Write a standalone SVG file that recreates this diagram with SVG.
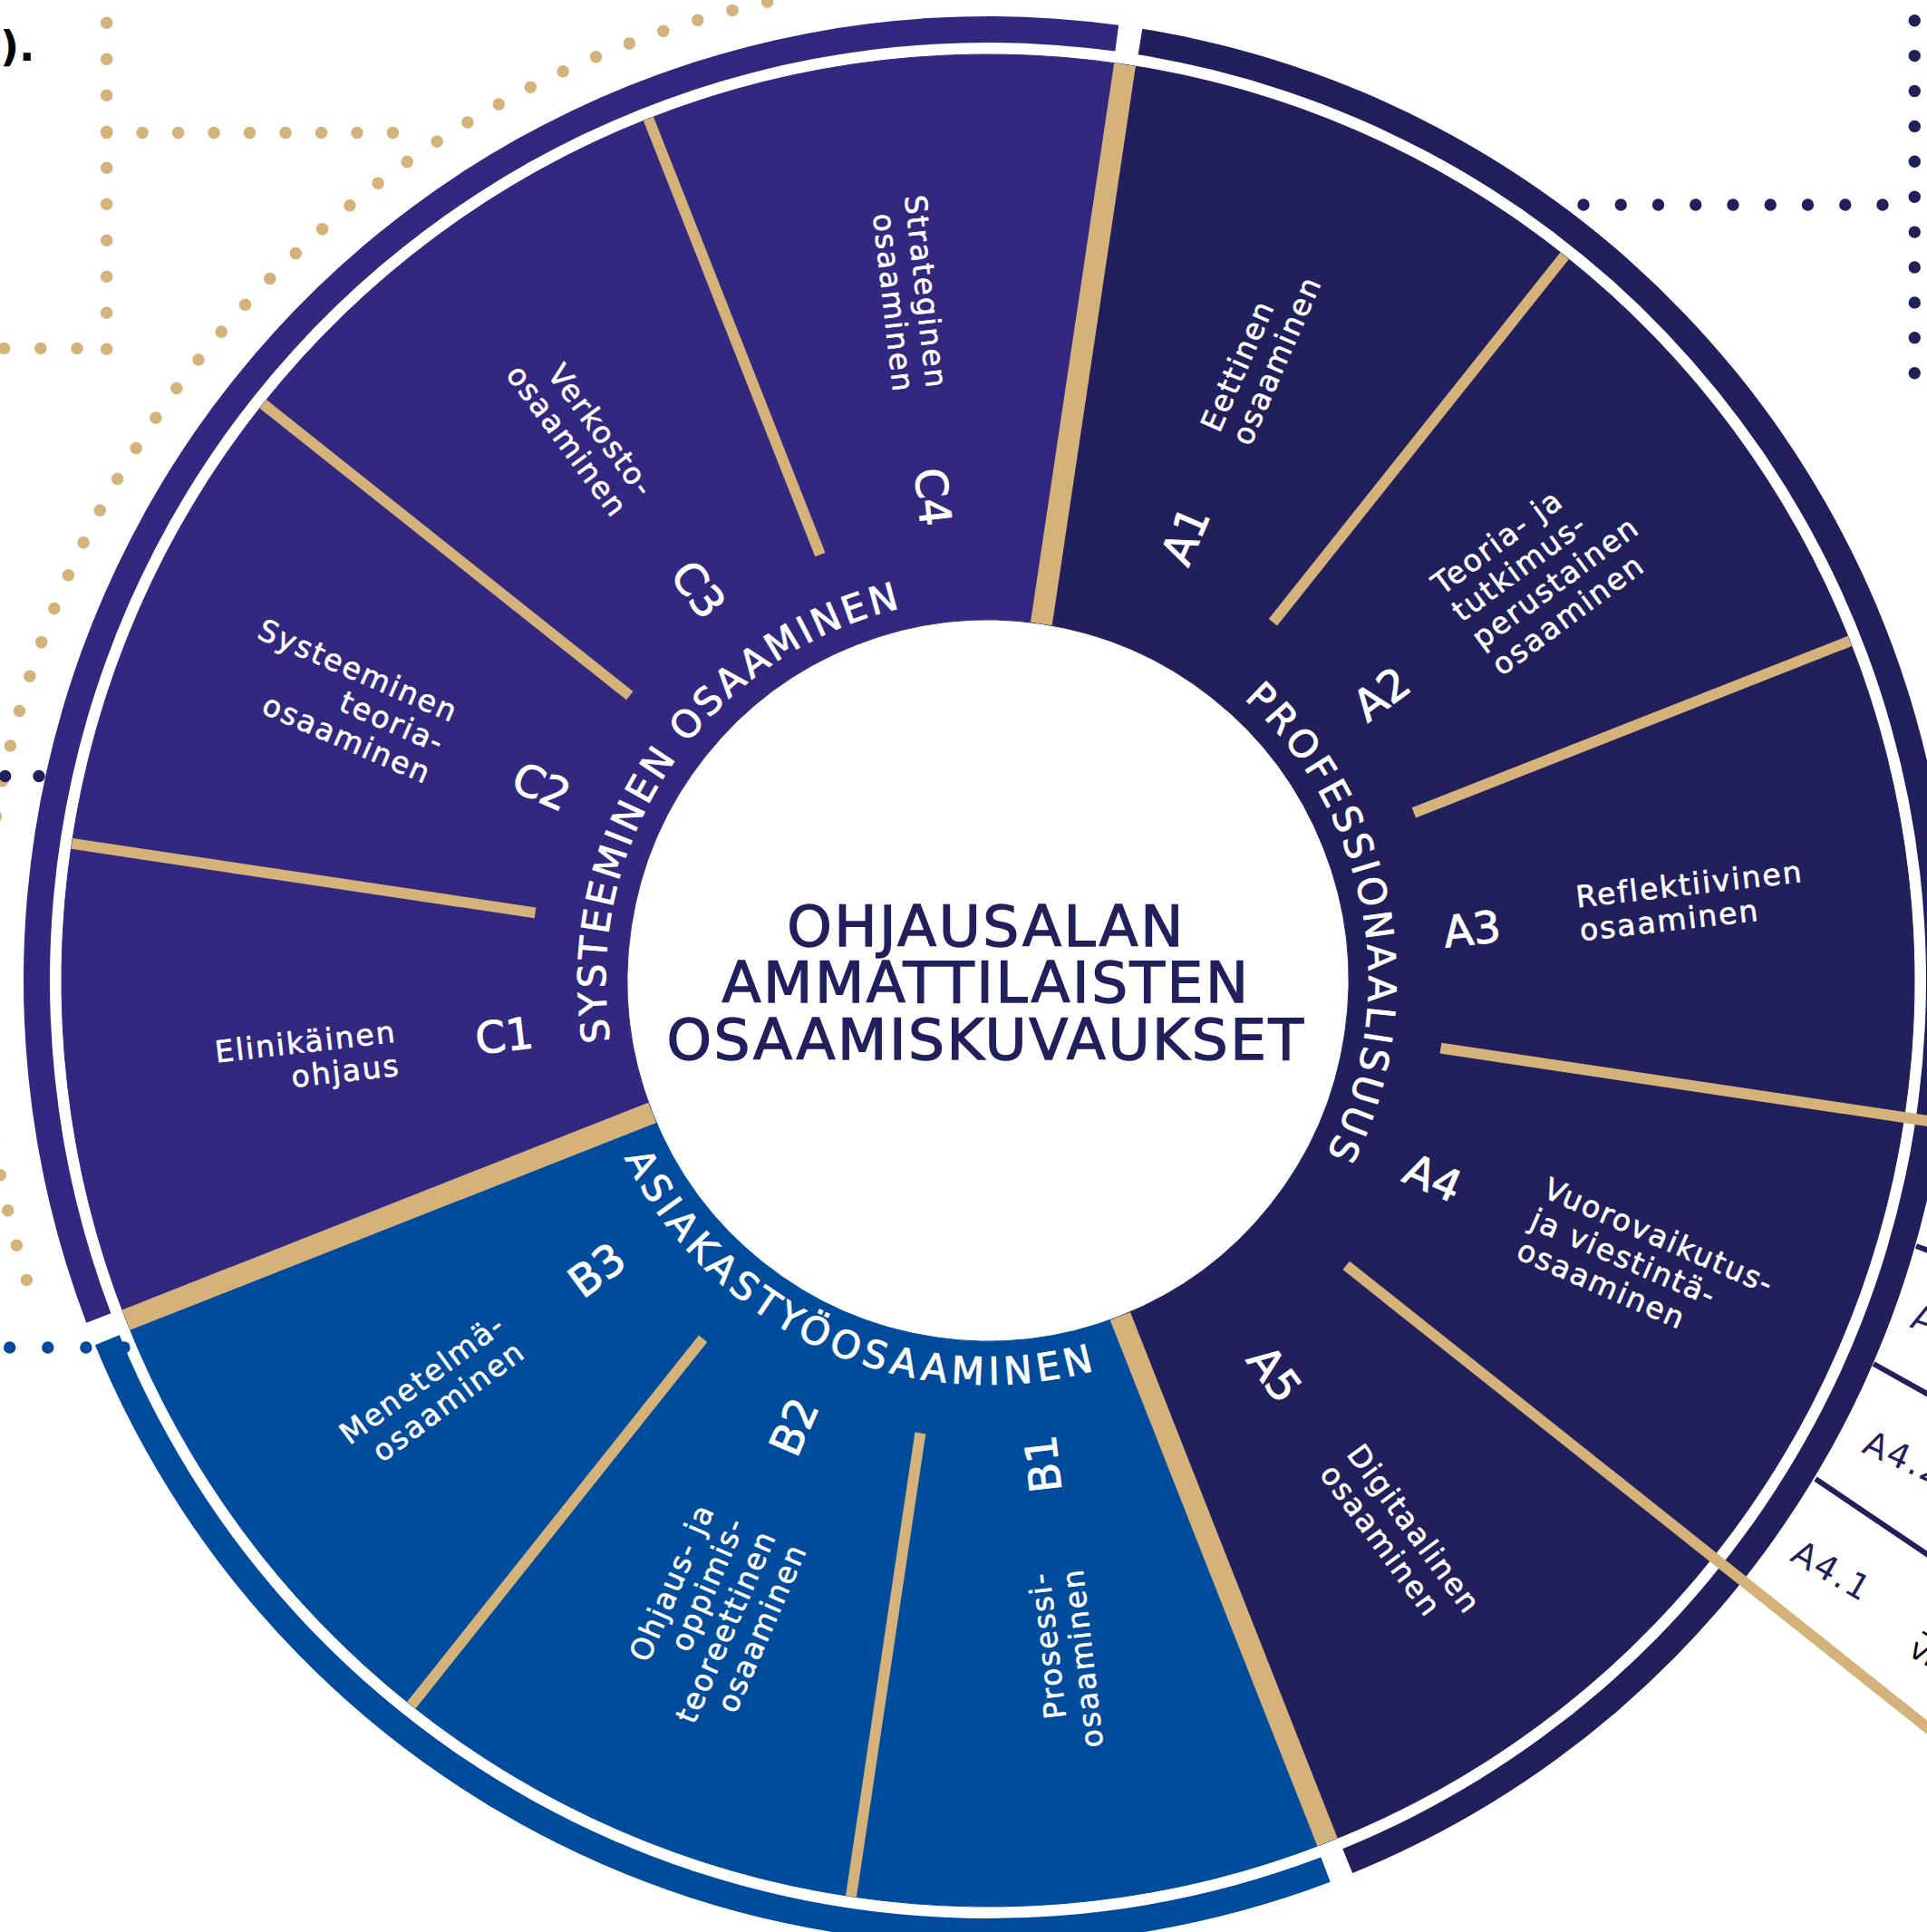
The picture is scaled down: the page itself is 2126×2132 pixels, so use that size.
<svg xmlns="http://www.w3.org/2000/svg" width="2126" height="2132" viewBox="0 0 2126 2132">
<defs>
<style>
.c{fill:#33287F;stroke:#33287F;stroke-width:1}
.a{fill:#211F5C;stroke:#211F5C;stroke-width:1}
.b{fill:#004C9C;stroke:#004C9C;stroke-width:1}
.bc{fill:#33287F}.ba{fill:#211F5C}.bb{fill:#004C9C}
.gk{stroke:#D4B27A;stroke-width:24;fill:none}
.gn{stroke:#D4B27A;stroke-width:12;fill:none}
text{font-family:'DejaVu Sans','Liberation Sans',sans-serif}
.code{font-size:48px;text-anchor:middle;fill:#fff;stroke:#fff;stroke-width:1}
.desc{font-size:33px;letter-spacing:2px;fill:#fff;stroke:#fff;stroke-width:0.6}
.end{text-anchor:end}
.ring{font-size:42px;fill:#fff;text-anchor:middle;stroke:#fff;stroke-width:0.9}
.title{font-size:63px;fill:#211F5C;text-anchor:middle;letter-spacing:2.5px;stroke:#211F5C;stroke-width:1.4}
.dg{fill:none;stroke:#D4B27A;stroke-width:13.5;stroke-linecap:round}
.dn{fill:none;stroke:#211F5C;stroke-width:13.4;stroke-linecap:round}
.db{fill:none;stroke:#004C9C;stroke-width:13.4;stroke-linecap:round}
.nl{stroke:#211F5C;stroke-width:6}
.sub{font-size:38px;fill:#211F5C;letter-spacing:2px}
</style>
<path id="pc" d="M710.71 1266.99 A422 422 0 0 1 1119.44 661.03"/>
<path id="pa" d="M1230.20 686.09 A420 420 0 0 1 1362.77 1401.37"/>
<path id="pb" d="M646.44 1128.62 A446 446 0 0 0 1352.15 1442.82"/>
</defs>
<rect width="2126" height="2132" fill="#fff"/>

<g id="decor">
<path class="dg" d="M846.6 2 A1110 1110 0 0 0 41.7 1450" stroke-dasharray="0 39.79"/>
<path class="dg" d="M117.7 25.3 V385.6" stroke-dasharray="0 40"/>
<path class="dg" d="M117.7 146.4 H433.8" stroke-dasharray="0 39.46"/>
<path class="dg" d="M4.6 384.6 H85.3" stroke-dasharray="0 40.2"/>
<path class="dn" d="M2112.3 22.7 V412" stroke-dasharray="0 38.9"/>
<path class="dn" d="M1747 226 H2077.3" stroke-dasharray="0 41.25"/>
<path class="dn" d="M5.7 856.5 H43.2" stroke-dasharray="0 37.3"/>
<text x="0" y="67" font-size="46" font-weight="bold" fill="#000">).</text>
</g>

<g id="C">
<path class="bc" d="M95.28 1459.66 A1064 1064 0 0 1 1234.21 27.82 L1230.28 56.55 A1035 1035 0 0 0 122.39 1449.36 Z"/>
</g>
<g id="A">
<path class="ba" d="M1260.30 31.71 A1064 1064 0 0 1 1492.19 2067.06 L1481.23 2040.21 A1035 1035 0 0 0 1255.66 60.34 Z"/>
</g>
<g id="B">
<path class="bb" d="M1467.66 2076.72 A1064 1064 0 0 1 104.94 1484.19 L131.79 1473.23 A1035 1035 0 0 0 1457.36 2049.61 Z"/>
</g>

<g id="C1">
<path class="c" d="M139.11 1456.56 A1022 1022 0 0 1 79.22 930.94 L696.37 1023.17 A398 398 0 0 0 719.69 1227.87 Z"/>
<g transform="translate(1090 1082) rotate(-6.5)">
<text class="code" x="-537" y="17">C1</text>
<text class="desc end"><tspan x="-655" y="-6.5">Elinikäinen</tspan><tspan x="-655" y="30.5">ohjaus</tspan></text>
</g>
</g>
<g id="C2">
<path class="c" d="M79.22 930.94 A1022 1022 0 0 1 290.17 445.79 L778.52 834.24 A398 398 0 0 0 696.37 1023.17 Z"/>
<g transform="translate(1090 1082) rotate(23.5)">
<text class="code" x="-537" y="17">C2</text>
<text class="desc end"><tspan x="-655" y="-25">Systeeminen</tspan><tspan x="-655" y="12">teoria-</tspan><tspan x="-655" y="49">osaaminen</tspan></text>
</g>
</g>
<g id="C3">
<path class="c" d="M290.17 445.79 A1022 1022 0 0 1 715.44 131.11 L944.13 711.69 A398 398 0 0 0 778.52 834.24 Z"/>
<g transform="translate(1090 1082) rotate(53.5)">
<text class="code" x="-537" y="17">C3</text>
<text class="desc end"><tspan x="-655" y="-6.5">Verkosto-</tspan><tspan x="-655" y="30.5">osaaminen</tspan></text>
</g>
</g>
<g id="C4">
<path class="c" d="M715.44 131.11 A1022 1022 0 0 1 1241.06 71.22 L1148.83 688.37 A398 398 0 0 0 944.13 711.69 Z"/>
<g transform="translate(1090 1082) rotate(83.5)">
<text class="code" x="-537" y="17">C4</text>
<text class="desc end"><tspan x="-655" y="-6.5">Strateginen</tspan><tspan x="-655" y="30.5">osaaminen</tspan></text>
</g>
</g>

<g id="A1">
<path class="a" d="M1241.06 71.22 A1022 1022 0 0 1 1726.21 282.17 L1337.76 770.52 A398 398 0 0 0 1148.83 688.37 Z"/>
<g transform="translate(1090 1082) rotate(-66.5)">
<text class="code" x="537" y="21">A1</text>
<text class="desc"><tspan x="655" y="-6.5">Eettinen</tspan><tspan x="655" y="30.5">osaaminen</tspan></text>
</g>
</g>
<g id="A2">
<path class="a" d="M1726.21 282.17 A1022 1022 0 0 1 2040.89 707.44 L1460.31 936.13 A398 398 0 0 0 1337.76 770.52 Z"/>
<g transform="translate(1090 1082) rotate(-36.5)">
<text class="code" x="537" y="21">A2</text>
<text class="desc"><tspan x="655" y="-43.5">Teoria- ja</tspan><tspan x="655" y="-6.5">tutkimus-</tspan><tspan x="655" y="30.5">perustainen</tspan><tspan x="655" y="67.5">osaaminen</tspan></text>
</g>
</g>
<g id="A3">
<path class="a" d="M2040.89 707.44 A1022 1022 0 0 1 2100.78 1233.06 L1483.63 1140.83 A398 398 0 0 0 1460.31 936.13 Z"/>
<g transform="translate(1090 1082) rotate(-6.5)">
<text class="code" x="537" y="21">A3</text>
<text class="desc"><tspan x="655" y="-6.5">Reflektiivinen</tspan><tspan x="655" y="30.5">osaaminen</tspan></text>
</g>
</g>
<g id="A4">
<path class="a" d="M2100.78 1233.06 A1022 1022 0 0 1 1889.83 1718.21 L1401.48 1329.76 A398 398 0 0 0 1483.63 1140.83 Z"/>
<g transform="translate(1090 1082) rotate(23.5)">
<text class="code" x="537" y="21">A4</text>
<text class="desc"><tspan x="655" y="-25">Vuorovaikutus-</tspan><tspan x="655" y="12">ja viestintä-</tspan><tspan x="655" y="49">osaaminen</tspan></text>
</g>
</g>
<g id="A5">
<path class="a" d="M1889.83 1718.21 A1022 1022 0 0 1 1464.56 2032.89 L1235.87 1452.31 A398 398 0 0 0 1401.48 1329.76 Z"/>
<g transform="translate(1090 1082) rotate(53.5)">
<text class="code" x="537" y="21">A5</text>
<text class="desc"><tspan x="655" y="-6.5">Digitaalinen</tspan><tspan x="655" y="30.5">osaaminen</tspan></text>
</g>
</g>

<g id="B1">
<path class="b" d="M1464.56 2032.89 A1022 1022 0 0 1 938.94 2092.78 L1031.17 1475.63 A398 398 0 0 0 1235.87 1452.31 Z"/>
<g transform="translate(1090 1082) rotate(-96.5)">
<text class="code" x="-537" y="17">B1</text>
<text class="desc end"><tspan x="-655" y="-6.5">Prosessi-</tspan><tspan x="-655" y="30.5">osaaminen</tspan></text>
</g>
</g>
<g id="B2">
<path class="b" d="M938.94 2092.78 A1022 1022 0 0 1 453.79 1881.83 L842.24 1393.48 A398 398 0 0 0 1031.17 1475.63 Z"/>
<g transform="translate(1090 1082) rotate(-66.5)">
<text class="code" x="-537" y="17">B2</text>
<text class="desc end"><tspan x="-655" y="-43.5">Ohjaus- ja</tspan><tspan x="-655" y="-6.5">oppimis-</tspan><tspan x="-655" y="30.5">teoreettinen</tspan><tspan x="-655" y="67.5">osaaminen</tspan></text>
</g>
</g>
<g id="B3">
<path class="b" d="M453.79 1881.83 A1022 1022 0 0 1 139.11 1456.56 L719.69 1227.87 A398 398 0 0 0 842.24 1393.48 Z"/>
<g transform="translate(1090 1082) rotate(-36.5)">
<text class="code" x="-537" y="17">B3</text>
<text class="desc end"><tspan x="-655" y="-6.5">Menetelmä-</tspan><tspan x="-655" y="30.5">osaaminen</tspan></text>
</g>
</g>

<g id="dividers">
<line class="gk" x1="1235.87" y1="1452.31" x2="1464.56" y2="2032.89"/>
<line class="gk" x1="719.69" y1="1227.87" x2="139.11" y2="1456.56"/>
<line class="gk" x1="1148.83" y1="688.37" x2="1241.06" y2="71.22"/>
<line class="gn" x1="1589.46" y1="1156.64" x2="2474.6" y2="1288.9"/>
<line class="gn" x1="1485.22" y1="1396.37" x2="2185.65" y2="1953.51"/>
<line class="gn" x1="1015.36" y1="1581.46" x2="938.94" y2="2092.78"/>
<line class="gn" x1="775.63" y1="1477.22" x2="453.79" y2="1881.83"/>
<line class="gn" x1="590.54" y1="1007.36" x2="79.22" y2="930.94"/>
<line class="gn" x1="694.78" y1="767.63" x2="290.17" y2="445.79"/>
<line class="gn" x1="904.92" y1="612.14" x2="715.44" y2="131.11"/>
<line class="gn" x1="1404.37" y1="686.78" x2="1726.21" y2="282.17"/>
<line class="gn" x1="1559.86" y1="896.92" x2="2040.89" y2="707.44"/>
</g>

<g id="ring-labels">
<text class="ring" letter-spacing="3.3"><textPath href="#pc" startOffset="50%">SYSTEEMINEN OSAAMINEN</textPath></text>
<text class="ring" letter-spacing="4.2"><textPath href="#pa" startOffset="50.4%">PROFESSIONAALISUUS</textPath></text>
<text class="ring" letter-spacing="5.5"><textPath href="#pb" startOffset="50%">ASIAKASTYÖOSAAMINEN</textPath></text>
</g>

<g id="title">
<text class="title" x="1088" y="1044" letter-spacing="5.5">OHJAUSALAN</text>
<text class="title" x="1088" y="1106" letter-spacing="3.5">AMMATTILAISTEN</text>
<text class="title" x="1088" y="1169">OSAAMISKUVAUKSET</text>
</g>

<g id="A4-detail">
<line class="nl" x1="2114" y1="1375" x2="2140" y2="1384.6"/>
<line class="nl" x1="2067" y1="1505" x2="2140" y2="1545.8"/>
<line class="nl" x1="2003" y1="1632" x2="2140" y2="1724.5"/>
<text class="sub" transform="translate(2110 1452) rotate(18)" y="13">A4.3</text>
<text class="sub" transform="translate(2058 1590) rotate(24)" y="13" letter-spacing="4">A4.2</text>
<text class="sub" transform="translate(1980 1710) rotate(30)" y="13">A4.1</text>
<text transform="translate(2117 1800) rotate(30)" font-size="32" fill="#000">1</text>
<text transform="translate(2104 1826) rotate(30)" font-size="32" fill="#000">vi</text>
</g>

<g id="decor-top">
<path class="db" d="M10.7 1487 H137.5" stroke-dasharray="0 42.1"/>
</g>
</svg>
